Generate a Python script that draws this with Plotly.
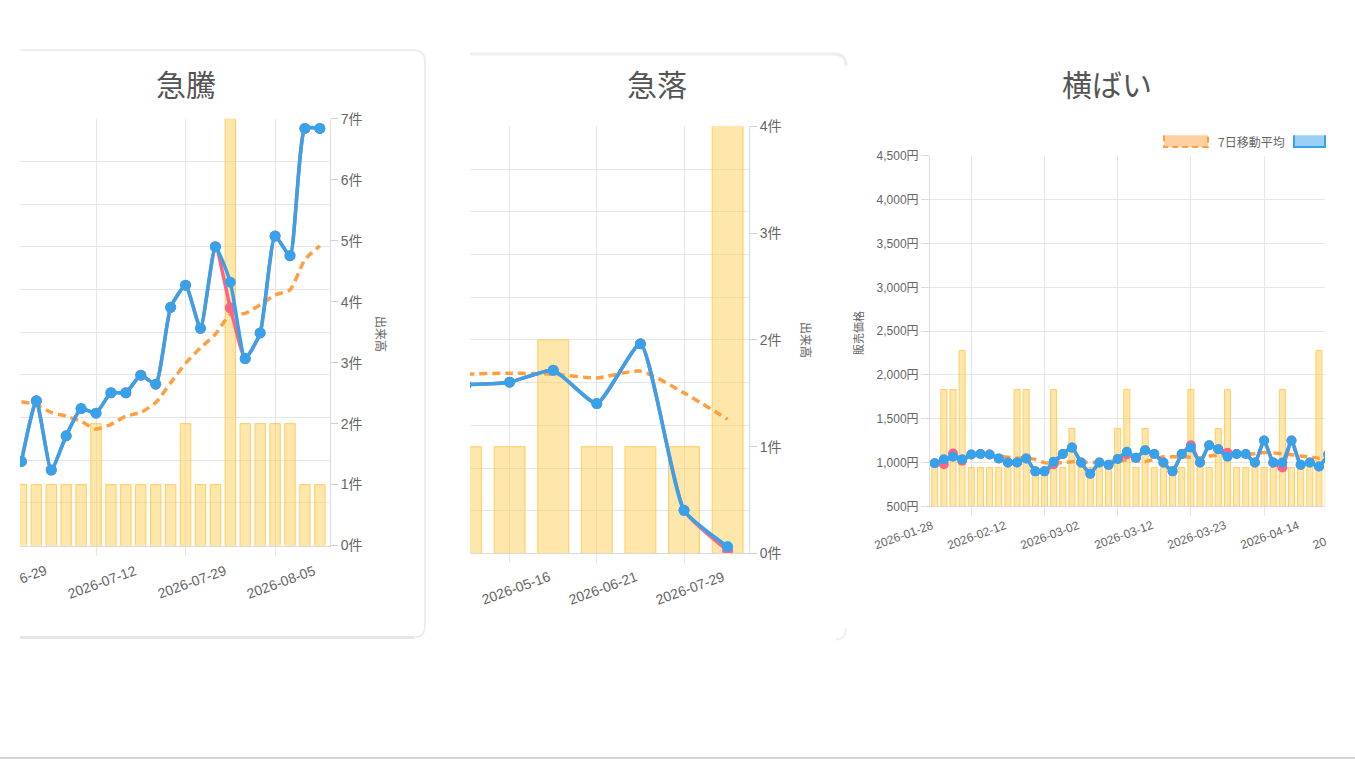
import math
import plotly.graph_objects as go

W, H = 1355, 769


def fx(px):
    return px / W


def fy(py):
    return 1 - py / H


# ---------------- data ----------------
# 急騰 (surge)
surge_idx = list(range(21))
surge_volume = [1, 1, 1, 1, 1, 2, 1, 1, 1, 1, 1, 2, 1, 1, 7, 2, 2, 2, 2, 1, 1]
surge_price = [197, 339, 177, 257, 321, 310, 358, 358, 399, 378, 558, 610, 509, 700, 617, 438, 498, 725, 679, 977, 977]
surge_price_low = [197, 339, 177, 257, 321, 310, 358, 358, 399, 378, 558, 610, 509, 700, 557, 438, 498, 725, 679, 977, 977]
surge_ma = [337, 330, 312, 303, 291, 273, 284, 303, 312, 335, 381, 427, 463, 495, 541, 544, 564, 587, 599, 670, 702]
surge_tick_idx = [-1, 5, 11, 17]
surge_tick_labels = ["2026-06-29", "2026-07-12", "2026-07-29", "2026-08-05"]

# 急落 (plunge)
plunge_idx = list(range(7))
plunge_volume = [1, 1, 2, 1, 1, 1, 4]
plunge_price = [395, 401, 429, 351, 491, 101, 16]
plunge_price_low = [395, 401, 429, 351, 491, 101, 7]
plunge_ma = [420, 422, 420, 411, 427, 376, 314]
plunge_tick_idx = [1, 3, 5]
plunge_tick_labels = ["2026-05-16", "2026-06-21", "2026-07-29"]

# 横ばい (flat)
flat_idx = list(range(44))
flat_volume = [1, 3, 3, 4, 1, 1, 1, 1, 1, 3, 3, 1, 1, 3, 1, 2, 1, 1, 1, 1, 2, 3,
               1, 2, 1, 1, 1, 1, 3, 1, 1, 2, 3, 1, 1, 1, 1, 1, 3, 1, 1, 1, 4, 1]
flat_price = [993, 1037, 1067, 1037, 1093, 1097, 1093, 1048, 1000, 1000, 1048, 900, 900, 1011,
              1097, 1171, 1000, 874, 1000, 974, 1040, 1123, 1056, 1141, 1097, 1000, 900, 1097,
              1171, 1000, 1197, 1152, 1067, 1097, 1097, 1000, 1253, 1000, 1000, 1253, 974, 1000,
              955, 1093]
flat_price_low = [993, 981, 1104, 1022, 1093, 1097, 1093, 1048, 1000, 1000, 1048, 900, 900, 981,
                  1097, 1171, 1000, 874, 1000, 974, 1040, 1093, 1056, 1141, 1097, 1000, 900, 1097,
                  1197, 1000, 1197, 1152, 1112, 1097, 1097, 1000, 1253, 1000, 944, 1253, 974, 1000,
                  955, 1093]
flat_ma = [None, None, None, None, None, None,
           1067, 1070, 1060, 1050, 1052, 1035, 1000, 990, 1000, 1011, 1010, 1000, 1004, 1011,
           1020, 1030, 1020, 1011, 1040, 1067, 1067, 1067, 1060, 1056, 1074, 1085, 1093, 1093,
           1093, 1100, 1115, 1111, 1100, 1090, 1074, 1065, 1050, 1060]
flat_tick_idx = [-4, 4, 12, 20, 28, 36, 44]
flat_tick_labels = ["2026-01-28", "2026-02-12", "2026-03-02", "2026-03-12", "2026-03-23", "2026-04-14", "2026-04-22"]

titles = ["急騰", "急落", "横ばい"]
volume_title = "出来高"
price_title = "販売価格"
ma_legend = "7日移動平均"

# ---------------- styles ----------------
BAR_FILL = "rgba(255,205,86,0.5)"
BAR_LINE = "rgba(255,200,80,0.85)"
BLUE = "#36A2EB"
PINK = "#FF6384"
ORANGE = "#FF9F40"
GRID = "#e6e6e6"
TXT = "#666666"
FONT = "Liberation Sans, Noto Sans CJK JP, sans-serif"
CJK = "Noto Sans CJK JP, sans-serif"

# panel geometry (pixels); clip = visible card edges for tick labels
P1 = dict(x0=20, x1=330, y0=549, y1=113, r=(-0.094, 20.68), clip=(20, 2000))
P2 = dict(x0=470, x1=749, y0=557, y1=121, r=(0.092, 6.49), clip=(470, 2000))
P3 = dict(x0=930, x1=1325, y0=509, y1=151, r=(-0.514, 42.66), clip=(0, 1325))

fig = go.Figure()


def add_panel(xa, ybase, yover, idx, vol, price, price_low, ma, bw, msize, lw):
    fig.add_trace(go.Bar(x=idx, y=vol, xaxis=xa, yaxis=ybase, width=bw,
                         marker=dict(color=BAR_FILL, line=dict(color=BAR_LINE, width=1)),
                         showlegend=False, hoverinfo="skip"))
    fig.add_trace(go.Scatter(x=idx, y=ma, xaxis=xa, yaxis=yover, mode="lines",
                             line=dict(color=ORANGE, width=lw, dash="8px,5px", shape="spline", smoothing=0.6),
                             showlegend=False, hoverinfo="skip"))
    fig.add_trace(go.Scatter(x=idx, y=price_low, xaxis=xa, yaxis=yover, mode="lines+markers",
                             line=dict(color=PINK, width=lw, shape="spline", smoothing=0.5),
                             marker=dict(color=PINK, size=msize),
                             showlegend=False, hoverinfo="skip"))
    fig.add_trace(go.Scatter(x=idx, y=price, xaxis=xa, yaxis=yover, mode="lines+markers",
                             line=dict(color=BLUE, width=lw, shape="spline", smoothing=0.5),
                             marker=dict(color=BLUE, size=msize),
                             showlegend=False, hoverinfo="skip"))


add_panel("x", "y", "y2", surge_idx, surge_volume, surge_price, surge_price_low, surge_ma, 0.7, 11, 3.5)
add_panel("x2", "y3", "y4", plunge_idx, plunge_volume, plunge_price, plunge_price_low, plunge_ma, 0.71, 11, 3.5)
add_panel("x3", "y5", "y6", flat_idx, flat_volume, flat_price, flat_price_low, flat_ma, 0.66, 10, 3.5)


def xaxis_def(P, yanchor, tickvals):
    return dict(domain=[fx(P["x0"]), fx(P["x1"])], range=list(P["r"]), anchor=yanchor,
                tickmode="array", tickvals=tickvals, showticklabels=False,
                ticks="outside", ticklen=9, tickcolor=GRID,
                showgrid=True, gridcolor=GRID, gridwidth=1,
                showline=True, linecolor="#d9d9d9", linewidth=1, zeroline=False, fixedrange=True)


def vol_axis(P, xanchor, top, show=True):
    d = dict(domain=[fy(P["y0"]), fy(P["y1"])], anchor=xanchor, side="right",
             range=[0, top], dtick=1, showgrid=False, zeroline=False, fixedrange=True)
    if show:
        d.update(ticksuffix="件", ticks="outside", ticklen=7, tickcolor="#cfcfcf",
                 showline=True, linecolor="#dcdcdc", linewidth=1,
                 tickfont=dict(family=FONT, size=14, color=TXT))
    else:
        d.update(showticklabels=False, ticks="", showline=False)
    return d


def price_axis(base, xanchor, rng, dtick, show=False):
    d = dict(overlaying=base, anchor=xanchor, side="left", range=rng, dtick=dtick,
             showgrid=True, gridcolor=GRID, gridwidth=1, zeroline=False, fixedrange=True)
    if show:
        d.update(tickformat=",", ticksuffix="円", ticks="outside", ticklen=8, tickcolor="#dcdcdc",
                 showline=True, linecolor="#dcdcdc", linewidth=1,
                 tickfont=dict(family=FONT, size=12, color=TXT))
    else:
        d.update(showticklabels=False, ticks="", showline=False)
    return d


fig.update_layout(
    width=W, height=H, margin=dict(l=0, r=0, t=0, b=0), autosize=False,
    paper_bgcolor="white", plot_bgcolor="rgba(0,0,0,0)",
    showlegend=False, barmode="overlay",
    xaxis=xaxis_def(P1, "y", surge_tick_idx),
    yaxis=vol_axis(P1, "x", 7),
    yaxis2=price_axis("y", "x", [0, 1000], 100),
    xaxis2=xaxis_def(P2, "y3", plunge_tick_idx),
    yaxis3=vol_axis(P2, "x2", 4),
    yaxis4=price_axis("y3", "x2", [0, 1000], 100),
    xaxis3=xaxis_def(P3, "y5", flat_tick_idx),
    yaxis5=vol_axis(P3, "x3", 9, show=False),
    yaxis6=price_axis("y5", "x3", [500, 4500], 500, show=True),
)


def idx_px(P, i):
    r0, r1 = P["r"]
    return P["x0"] + (i - r0) / (r1 - r0) * (P["x1"] - P["x0"])


annotations = []


def ann(text, px, py, size, color=TXT, angle=0, family=FONT):
    annotations.append(dict(text=text, x=fx(px), y=fy(py), xref="paper", yref="paper",
                            xanchor="center", yanchor="middle", showarrow=False,
                            textangle=angle, font=dict(family=family, size=size, color=color)))


ANG = 20.0
ca, sa = math.cos(math.radians(ANG)), math.sin(math.radians(ANG))


def tick_labels(P, idxs, labels, dy, size, char_w):
    cl, cr = P["clip"]
    for i, lab in zip(idxs, labels):
        cx = idx_px(P, i) + 6
        cy = P["y0"] + dy
        full_w = len(lab) * char_w
        if cx - full_w / 2 * ca < cl:
            # only the tail of the label is visible (clipped by the card on the left)
            vis = lab[-4:]
            shift = full_w / 2 - len(vis) * char_w / 2
            ann(vis, cx + shift * ca, cy - shift * sa, size, angle=-ANG)
        elif cx - full_w / 2 * ca + 12 > cr:
            # only the head of the label is visible (clipped on the right)
            vis = lab[:2]
            shift = full_w / 2 - len(vis) * char_w / 2
            ann(vis, cx - shift * ca, cy + shift * sa, size, angle=-ANG)
        else:
            ann(lab, cx, cy, size, angle=-ANG)


tick_labels(P1, surge_tick_idx, surge_tick_labels, 37, 14, 7.4)
tick_labels(P2, plunge_tick_idx, plunge_tick_labels, 35, 14, 7.4)
tick_labels(P3, flat_tick_idx, flat_tick_labels, 29, 12, 6.1)

# titles
ann(titles[0], 186, 77, 30, color="#555555", family=CJK)
ann(titles[1], 657, 77, 30, color="#555555", family=CJK)
ann(titles[2], 1107, 77, 30, color="#555555", family=CJK)

# axis titles
ann(volume_title, 382, 333, 12, angle=90, family=CJK)
ann(volume_title, 806, 339, 12, angle=90, family=CJK)
ann(price_title, 858, 332, 11, angle=-90, family=CJK)

# legend text (partially clipped in the original)
ann(ma_legend, 1251, 136, 12, family=CJK)

fig.update_layout(annotations=annotations)

# ---------------- shapes: cards, legend swatches, page line ----------------
shapes = []


def P(px, py):
    return f"{fx(px):.5f},{fy(py):.5f}"


def card_path(x0, y0, x1, y1, r):
    return (f"M {P(x0, y0)} L {P(x1 - r, y0)} Q {P(x1, y0)} {P(x1, y0 + r)} "
            f"L {P(x1, y1 - r)} Q {P(x1, y1)} {P(x1 - r, y1)} L {P(x0, y1)}")


shapes.append(dict(type="path", xref="paper", yref="paper", path=card_path(20, 43, 425, 643, 12),
                   line=dict(color="#eeeeee", width=2), layer="below"))
shapes.append(dict(type="line", xref="paper", yref="paper", x0=fx(20), x1=fx(414), y0=fy(643), y1=fy(643),
                   line=dict(color="#e6e6e6", width=3), layer="below"))
shapes.append(dict(type="path", xref="paper", yref="paper",
                   path=f"M {P(470, 47)} L {P(834, 47)} Q {P(846, 47)} {P(846, 59)}",
                   line=dict(color="#eeeeee", width=3), layer="below"))
shapes.append(dict(type="path", xref="paper", yref="paper",
                   path=f"M {P(846, 633)} Q {P(846, 645)} {P(836, 645)}",
                   line=dict(color="#f0f0f0", width=2), layer="below"))
# page bottom line
shapes.append(dict(type="line", xref="paper", yref="paper", x0=0, x1=1, y0=fy(766), y1=fy(766),
                   line=dict(color="#c4c4c4", width=1.5)))
# legend swatches (top clipped)
shapes.append(dict(type="path", xref="paper", yref="paper",
                   path=f"M {P(1164, 130)} L {P(1164, 142)} L {P(1208, 142)} L {P(1208, 130)}",
                   fillcolor="rgba(255,159,64,0.5)", line=dict(color=ORANGE, width=2, dash="6px,4px")))
shapes.append(dict(type="path", xref="paper", yref="paper",
                   path=f"M {P(1294, 130)} L {P(1294, 142)} L {P(1325, 142)} L {P(1325, 130)}",
                   fillcolor="rgba(54,162,235,0.5)", line=dict(color=BLUE, width=2)))

fig.update_layout(shapes=shapes)

fig.write_html("out.html", config={"displayModeBar": False, "staticPlot": True},
               post_script="document.documentElement.style.margin='0';document.body.style.margin='0';"
                           "document.body.style.overflow='hidden';")
